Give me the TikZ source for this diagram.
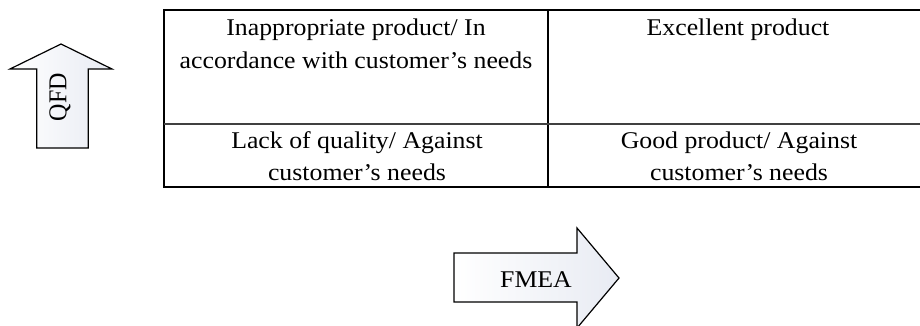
\documentclass[tikz,border=0pt]{standalone}
\usepackage{fontspec}
\setmainfont{Liberation Serif}
\newfontfamily\widefont[FakeStretch=1.075]{Liberation Serif}
\definecolor{arrowgray}{RGB}{232,235,243}
\begin{document}
\begin{tikzpicture}[x=1pt,y=-1pt,
  txt/.style={font=\widefont\fontsize{24}{33}\selectfont, inner sep=0pt, align=center},
  txtb/.style={font=\widefont\fontsize{24}{31.7}\selectfont, inner sep=0pt, align=center},
  gridline/.style={line width=1.8pt, draw=black},
  fatarrow/.style={draw=black, line width=1.2pt, left color=white, right color=arrowgray, line join=miter}]
\useasboundingbox (0,0) rectangle (920,325);
% QFD arrow
\draw[fatarrow] (36.7,148) -- (36.7,69) -- (10,69) -- (61,44) -- (112,69) -- (88.3,69) -- (88.3,148) -- cycle;
\node[inner sep=0pt, font=\fontsize{24}{28}\selectfont, rotate=90] (qfd) at (60,97) {\scalebox{1}[1.07]{QFD}};
% FMEA arrow
\draw[fatarrow] (454,253) -- (577,253) -- (577,228) -- (619,278) -- (577,328) -- (577,302) -- (454,302) -- cycle;
\node[txt] (fmea) at (536,279.5) {FMEA};
% table
\coordinate (tl) at (164,10);
\coordinate (br) at (928,187);
\draw[gridline] (tl) rectangle (br);
\coordinate (mt) at (548,10);
\coordinate (mb) at (548,187);
\draw[gridline] (mt) -- (mb);
\coordinate (ml) at (164,124);
\coordinate (mr) at (928,124);
\draw[line width=1.5pt, black!75] (ml) -- (mr);
\node[txt, anchor=north] (c11) at (356,18.4) {Inappropriate product/ In\\accordance with customer’s needs};
\node[txt, anchor=north] (c12) at (738,18.6) {Excellent product};
\node[txtb, anchor=north] (c21) at (357,131.7) {Lack of quality/ Against\\customer’s needs};
\node[txtb, anchor=north] (c22) at (739,131.7) {Good product/ Against\\customer’s needs};
\end{tikzpicture}
\end{document}
